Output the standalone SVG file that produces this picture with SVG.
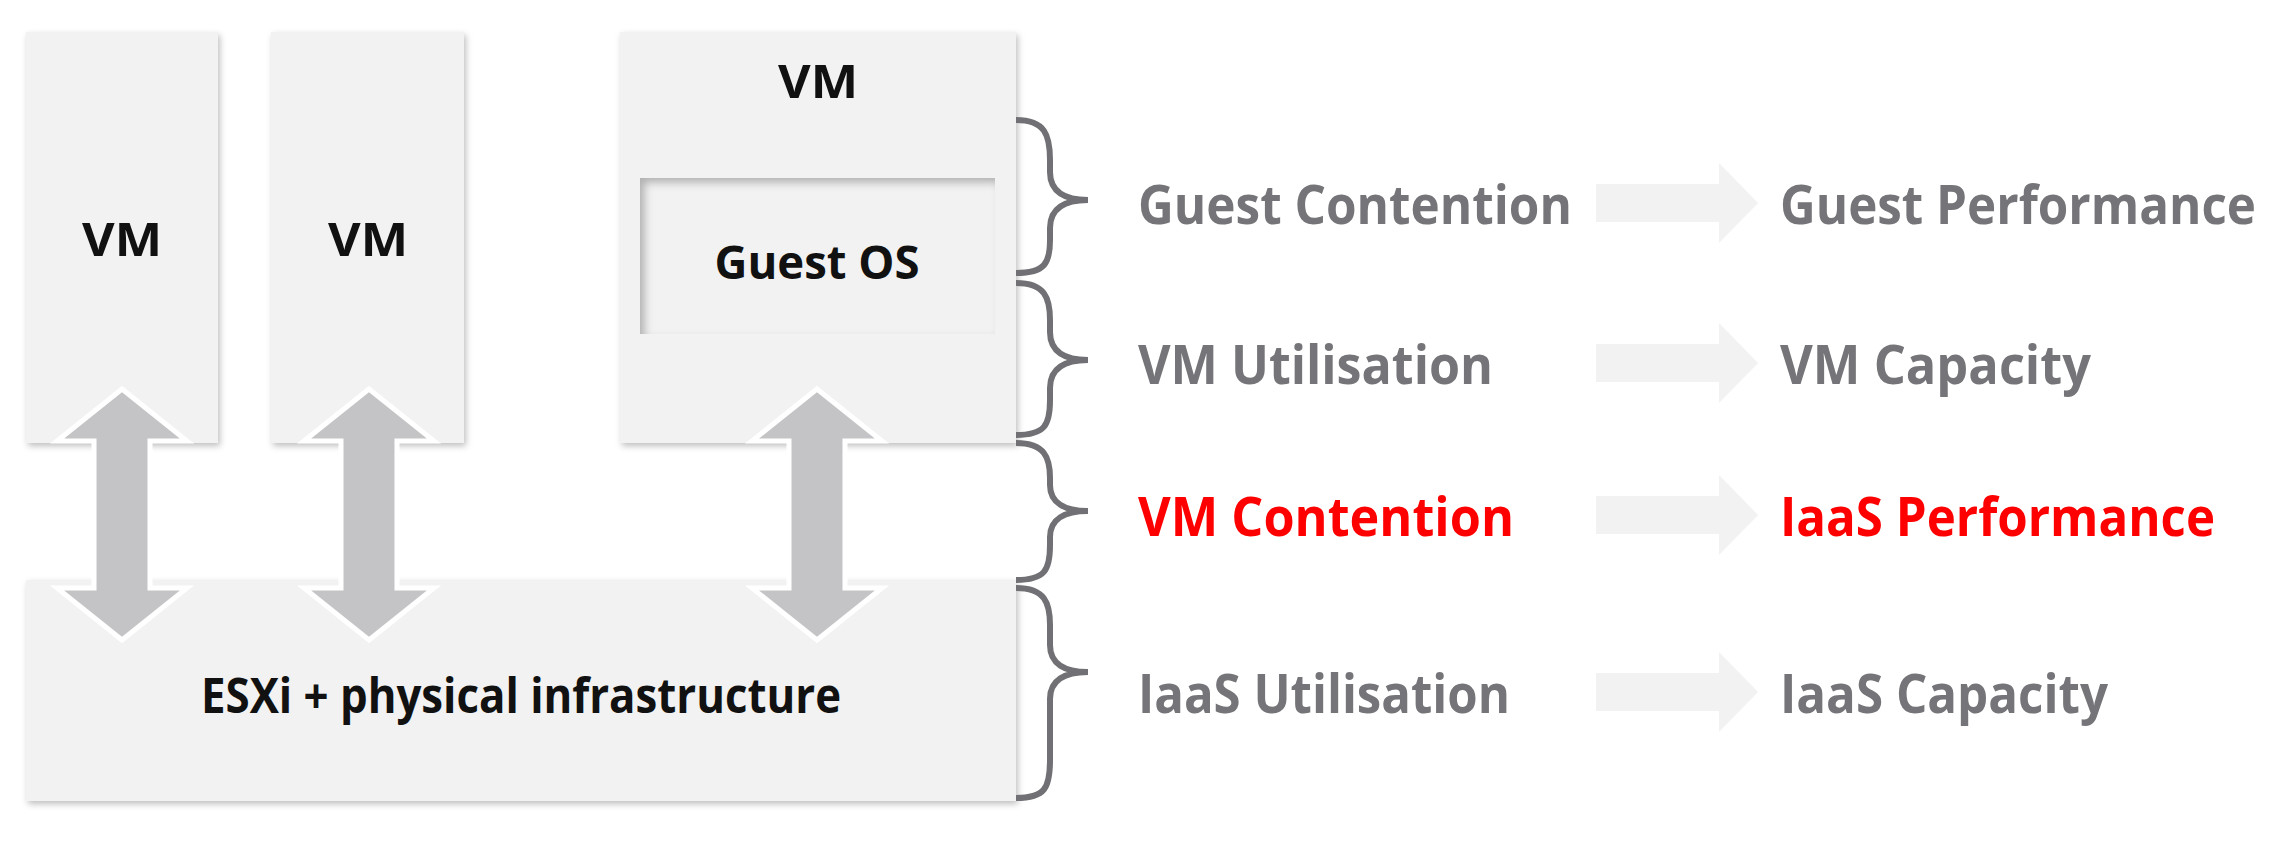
<svg xmlns="http://www.w3.org/2000/svg" width="2275" height="845" viewBox="0 0 2275 845">
<defs>
<filter id="sh" x="-5%" y="-5%" width="115%" height="115%"><feDropShadow dx="2" dy="3" stdDeviation="3" flood-color="#000" flood-opacity="0.25"/></filter>
<filter id="inset"><feFlood flood-color="#000" flood-opacity="0.5"/><feComposite in2="SourceAlpha" operator="out"/><feGaussianBlur stdDeviation="4"/><feOffset dx="5" dy="5"/><feComposite in2="SourceAlpha" operator="in"/><feMerge><feMergeNode in="SourceGraphic"/><feMergeNode/></feMerge></filter>
</defs>
<style>
.box{fill:#f2f2f2}
.bt{font-family:"Open Sans","Liberation Sans",sans-serif;font-weight:bold;fill:#111;text-anchor:middle;dominant-baseline:central}
.t{font-family:"Open Sans","Liberation Sans",sans-serif;font-weight:bold;fill:#757579;font-size:54px;dominant-baseline:central}
.red{fill:#ff0000}
.dar{fill:#c4c4c6;stroke:#fff;stroke-width:5}
.brace{fill:none;stroke:#707075;stroke-width:6}
.rar{fill:#f2f2f2}
</style>
<rect width="2275" height="845" fill="#fff"/>
<g id="vm1"><rect class="box" filter="url(#sh)" x="26" y="32" width="192" height="411"/><text class="bt" x="122" y="238" font-size="46" textLength="80" lengthAdjust="spacingAndGlyphs">VM</text></g>
<g id="vm2"><rect class="box" filter="url(#sh)" x="271" y="32" width="193" height="411"/><text class="bt" x="368" y="238" font-size="46" textLength="80" lengthAdjust="spacingAndGlyphs">VM</text></g>
<g id="vm3"><rect class="box" filter="url(#sh)" x="620" y="32" width="396" height="411"/><text class="bt" x="818" y="80" font-size="46" textLength="80" lengthAdjust="spacingAndGlyphs">VM</text></g>
<g id="guestos"><rect class="box" filter="url(#inset)" x="640" y="178" width="355" height="156"/><text class="bt" x="817" y="261" font-size="46" textLength="205" lengthAdjust="spacingAndGlyphs">Guest OS</text></g>
<g id="esxi"><rect class="box" filter="url(#sh)" x="26" y="580" width="990" height="221"/><text class="bt" x="521" y="694" font-size="48" textLength="640" lengthAdjust="spacingAndGlyphs">ESXi + physical infrastructure</text></g>
<g id="connectors">
<polygon class="dar" points="122,389 187,441 150,441 150,588 187,588 122,640 57,588 94,588 94,441 57,441"/>
<polygon class="dar" points="369,389 434,441 397,441 397,588 434,588 369,640 304,588 341,588 341,441 304,441"/>
<polygon class="dar" points="817,389 882,441 845,441 845,588 882,588 817,640 752,588 789,588 789,441 752,441"/>
<path class="brace" d="M1016,120 C1045,120 1050,135 1050,160 L1050,172 C1050,192 1065,200 1088,200 C1065,200 1050,208 1050,228 L1050,240 C1050,263 1045,273 1016,273"/>
<path class="brace" d="M1016,283 C1045,283 1050,298 1050,320 L1050,332 C1050,352 1065,360 1088,360 C1065,360 1050,368 1050,388 L1050,400 C1050,425 1045,435 1016,435"/>
<path class="brace" d="M1016,443 C1045,443 1050,458 1050,478 L1050,485 C1050,503 1065,511 1088,511 C1065,511 1050,519 1050,537 L1050,545 C1050,570 1045,580 1016,580"/>
<path class="brace" d="M1016,588 C1045,588 1050,603 1050,625 L1050,645 C1050,664 1065,672 1088,672 C1065,672 1050,680 1050,699 L1050,760 C1050,788 1045,798 1016,798"/>
<polygon class="rar" points="1596,184 1719,184 1719,163 1758,203 1719,243 1719,222 1596,222"/>
<polygon class="rar" points="1596,344 1719,344 1719,323 1758,363 1719,403 1719,382 1596,382"/>
<polygon class="rar" points="1596,496 1719,496 1719,475 1758,515 1719,555 1719,534 1596,534"/>
<polygon class="rar" points="1596,673 1719,673 1719,652 1758,692 1719,732 1719,711 1596,711"/>
</g>
<g id="labels">
<text class="t" x="1138" y="203" textLength="434" lengthAdjust="spacingAndGlyphs">Guest Contention</text>
<text class="t" x="1780" y="203" textLength="476" lengthAdjust="spacingAndGlyphs">Guest Performance</text>
<text class="t" x="1138" y="363" textLength="355" lengthAdjust="spacingAndGlyphs">VM Utilisation</text>
<text class="t" x="1780" y="363" textLength="311" lengthAdjust="spacingAndGlyphs">VM Capacity</text>
<text class="t red" x="1138" y="515" textLength="376" lengthAdjust="spacingAndGlyphs">VM Contention</text>
<text class="t red" x="1780" y="515" textLength="435" lengthAdjust="spacingAndGlyphs">IaaS Performance</text>
<text class="t" x="1138" y="692" textLength="372" lengthAdjust="spacingAndGlyphs">IaaS Utilisation</text>
<text class="t" x="1780" y="692" textLength="328" lengthAdjust="spacingAndGlyphs">IaaS Capacity</text>
</g>
</svg>
